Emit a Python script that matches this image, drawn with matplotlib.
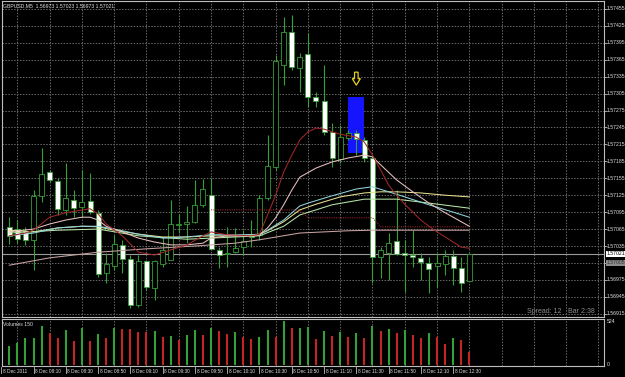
import matplotlib
matplotlib.use('Agg')
import matplotlib.pyplot as plt
import matplotlib.transforms as mtransforms
from matplotlib.patches import Rectangle, Polygon
import numpy as np

plt.rcParams['font.family'] = ['Liberation Sans', 'DejaVu Sans']

# --- data (GBPUSD M5, 8 Dec 2011) ---
title = 'GBPUSD,M5  1.56973 1.57023 1.56973 1.57021'

opens = [1.57069, 1.57065, 1.57062, 1.57046, 1.57124, 1.57166, 1.57150, 1.57099, 1.57117, 1.57104,
         1.57115, 1.57094, 1.56987, 1.56999, 1.57037, 1.57012, 1.56930, 1.57008, 1.56961, 1.57003,
         1.57010, 1.57072, 1.57074, 1.57078, 1.57108, 1.57125, 1.57028, 1.57021, 1.57024, 1.57033,
         1.57055, 1.57055, 1.57120, 1.57175, 1.57356, 1.57414, 1.57350, 1.57375, 1.57299, 1.57292,
         1.57237, 1.57189, 1.57226, 1.57235, 1.57223, 1.57191, 1.57016, 1.57023, 1.57044, 1.57023,
         1.57019, 1.57014, 1.57005, 1.56999, 1.57003, 1.57017, 1.56996, 1.56973]
highs = [1.57086, 1.57081, 1.57069, 1.57134, 1.57209, 1.57170, 1.57156, 1.57182, 1.57134, 1.57170,
         1.57165, 1.57099, 1.57023, 1.57055, 1.57046, 1.57019, 1.57019, 1.57010, 1.57010, 1.57051,
         1.57117, 1.57092, 1.57106, 1.57152, 1.57154, 1.57156, 1.57033, 1.57069, 1.57067, 1.57063,
         1.57081, 1.57125, 1.57232, 1.57373, 1.57441, 1.57444, 1.57377, 1.57412, 1.57308, 1.57356,
         1.57253, 1.57249, 1.57241, 1.57241, 1.57228, 1.57196, 1.57033, 1.57058, 1.57134, 1.57046,
         1.57063, 1.57023, 1.57016, 1.57023, 1.57028, 1.57028, 1.57016, 1.57023]
lows = [1.57039, 1.57040, 1.57037, 1.56992, 1.57113, 1.57149, 1.57090, 1.57090, 1.57086, 1.57086,
        1.57092, 1.56980, 1.56969, 1.56992, 1.56987, 1.56925, 1.56927, 1.56957, 1.56939, 1.56998,
        1.57010, 1.57058, 1.57040, 1.57076, 1.57104, 1.57028, 1.56996, 1.56998, 1.57023, 1.57019,
        1.57033, 1.57046, 1.57117, 1.57170, 1.57320, 1.57347, 1.57308, 1.57281, 1.57281, 1.57232,
        1.57175, 1.57182, 1.57223, 1.57196, 1.57184, 1.56969, 1.56978, 1.56975, 1.57019, 1.56953,
        1.56998, 1.56975, 1.56952, 1.56962, 1.56983, 1.56966, 1.56953, 1.56973]
closes = [1.57053, 1.57047, 1.57046, 1.57124, 1.57163, 1.57152, 1.57101, 1.57120, 1.57102, 1.57113,
          1.57095, 1.56985, 1.57003, 1.57039, 1.57012, 1.56930, 1.57008, 1.56962, 1.57008, 1.57028,
          1.57074, 1.57074, 1.57078, 1.57108, 1.57136, 1.57030, 1.57019, 1.57023, 1.57031, 1.57044,
          1.57051, 1.57120, 1.57177, 1.57363, 1.57414, 1.57352, 1.57370, 1.57299, 1.57292, 1.57237,
          1.57191, 1.57228, 1.57235, 1.57225, 1.57191, 1.57016, 1.57028, 1.57040, 1.57021, 1.57019,
          1.57016, 1.57007, 1.56994, 1.57005, 1.57017, 1.56996, 1.56969, 1.57021]

volumes = [221, 264, 318, 325, 466, 376, 318, 419, 291, 446,
           291, 369, 318, 438, 434, 430, 399, 388, 407, 338,
           345, 299, 361, 415, 361, 438, 407, 369, 388, 338,
           310, 338, 415, 338, 524, 438, 440, 450, 310, 400,
           340, 390, 330, 380, 320, 470, 400, 430, 380, 420,
           360, 320, 380, 330, 256, 320, 295, 150]
vol_up = [1, 1, 1, 1, 1, 0, 0, 1, 0, 1,
          0, 1, 0, 1, 0, 0, 0, 0, 1, 0,
          1, 0, 1, 1, 0, 1, 0, 0, 1, 0,
          0, 1, 1, 0, 1, 0, 1, 1, 0, 1,
          0, 1, 0, 1, 0, 1, 0, 1, 0, 1,
          0, 0, 1, 0, 0, 1, 0, 0]

# moving averages (bar index, value)
ma_red_bars = [0, 2, 3, 5, 7, 10, 11, 12, 14, 16, 18, 20, 22, 24, 25, 27, 30, 31, 32, 33, 34, 35, 36,
               37, 38, 39, 41, 43, 44, 45, 46, 47, 48, 49, 50, 51, 52, 53, 54, 55, 56, 57]
ma_red = [1.57053, 1.57058, 1.57063, 1.57086, 1.57094, 1.57101, 1.57092, 1.57074, 1.57053, 1.57024,
          1.57019, 1.57028, 1.57037, 1.57053, 1.57060, 1.57055, 1.57053, 1.57056, 1.57090, 1.57125,
          1.57166, 1.57196, 1.57223, 1.57237, 1.57244, 1.57242, 1.57233, 1.57228, 1.57219, 1.57196,
          1.57170, 1.57143, 1.57125, 1.57109, 1.57095, 1.57081, 1.57070, 1.57060, 1.57051, 1.57042,
          1.57033, 1.57031]
ma_pink_bars = [0, 3, 5, 7, 9, 10, 11, 12, 14, 16, 18, 20, 22, 24, 25, 27, 30, 31, 32, 33, 34, 35,
                36, 38, 40, 42, 44, 45, 46, 48, 50, 52, 54, 56, 57]
ma_pink = [1.57060, 1.57065, 1.57074, 1.57081, 1.57086, 1.57086, 1.57081, 1.57070, 1.57060, 1.57049,
           1.57042, 1.57037, 1.57037, 1.57040, 1.57049, 1.57053, 1.57053, 1.57055, 1.57067, 1.57085,
           1.57108, 1.57134, 1.57157, 1.57173, 1.57184, 1.57191, 1.57196, 1.57193, 1.57179, 1.57152,
           1.57131, 1.57111, 1.57094, 1.57078, 1.57070]
ma_cyan_bars = [0, 3, 6, 9, 11, 13, 16, 19, 22, 25, 28, 31, 32, 34, 36, 37, 40, 43, 45, 47, 49, 52, 55, 57]
ma_cyan = [1.57053, 1.57058, 1.57067, 1.57070, 1.57070, 1.57065, 1.57056, 1.57049, 1.57051, 1.57055,
           1.57055, 1.57055, 1.57063, 1.57081, 1.57106, 1.57111, 1.57124, 1.57136, 1.57140, 1.57131,
           1.57122, 1.57108, 1.57095, 1.57086]
ma_green_bars = [0, 6, 11, 16, 22, 28, 31, 34, 36, 40, 44, 48, 52, 57]
ma_green = [1.57058, 1.57063, 1.57065, 1.57053, 1.57047, 1.57051, 1.57053, 1.57070, 1.57090, 1.57108,
            1.57118, 1.57118, 1.57111, 1.57102]
ma_khaki_bars = [0, 3, 6, 9, 11, 13, 16, 19, 22, 25, 28, 31, 32, 34, 36, 38, 41, 44, 46, 48, 51, 54, 57]
ma_khaki = [1.57063, 1.57060, 1.57067, 1.57070, 1.57069, 1.57063, 1.57056, 1.57051, 1.57051, 1.57053,
            1.57053, 1.57056, 1.57062, 1.57078, 1.57099, 1.57109, 1.57122, 1.57129, 1.57131, 1.57131,
            1.57129, 1.57125, 1.57122]
ma_slow_bars = [0, 5, 11, 17, 23, 28, 31, 36, 42, 45, 50, 57]
ma_slow = [1.57001, 1.57014, 1.57024, 1.57030, 1.57035, 1.57040, 1.57046, 1.57058, 1.57062, 1.57063,
           1.57063, 1.57063]
step_bars = [25, 36, 37, 45, 46, 57]
step_vals = [1.57099, 1.57099, 1.57085, 1.57085, 1.57069, 1.57069]

bid = 1.57021
grey_level = 1.57005
price_ticks = [1.57455, 1.57425, 1.57395, 1.57365, 1.57335, 1.57305, 1.57275, 1.57245, 1.57215,
               1.57185, 1.57155, 1.57125, 1.57095, 1.57065, 1.57035, 1.57005, 1.56975, 1.56945,
               1.56915]
time_label_bars = [-1, 3, 7, 11, 15, 19, 23, 27, 31, 35, 39, 43, 47, 51, 55]
time_labels = ['8 Dec 2011', '8 Dec 08:10', '8 Dec 08:30', '8 Dec 08:50', '8 Dec 09:10',
               '8 Dec 09:30', '8 Dec 09:50', '8 Dec 10:10', '8 Dec 10:30', '8 Dec 10:50',
               '8 Dec 11:10', '8 Dec 11:30', '8 Dec 11:50', '8 Dec 12:10', '8 Dec 12:30']
vol_max_label = 524
highlight_bars = (42, 43)
highlight_top, highlight_bottom = 1.57299, 1.57200
arrow_bar, arrow_top, arrow_bottom = 43, 1.57343, 1.57320

# --- styling ---
GREEN = '#35a035'
RED = '#c42424'
GRID = '#6a6a6a'
FRAME = '#bdbdbd'
TXT = '#e0e0e0'
FS = 3.7
LW = 0.75

fig = plt.figure(figsize=(6.25, 3.77), dpi=100, facecolor='black')
ax = fig.add_axes([2 / 625, 60 / 377, 602 / 625, 316 / 377], facecolor='black')
axv = fig.add_axes([2 / 625, 11 / 377, 602 / 625, 47 / 377], facecolor='black')

xlim = (-0.905, 73.69)
for a in (ax, axv):
    a.set_xlim(*xlim)
    for s in a.spines.values():
        s.set_color(FRAME)
        s.set_linewidth(0.8)
    for gx in range(1, 74, 4):
        a.axvline(gx, color=GRID, lw=0.7, ls=(0, (1.5, 1.5)), zorder=0)
    a.tick_params(axis='x', labelbottom=False, length=0)

ax.set_ylim(1.569092, 1.574691)
ax.yaxis.tick_right()
ax.set_yticks(price_ticks)
ax.set_yticklabels([])
ax.tick_params(axis='y', length=2, color=FRAME, width=0.6)
for p in price_ticks:
    ax.axhline(p, color=GRID, lw=0.7, ls=(0, (1.5, 1.5)), zorder=0)

ytr = mtransforms.blended_transform_factory(ax.transAxes, ax.transData)
for p in price_ticks:
    if p == grey_level:
        continue
    ax.text(1.005, p, f'{p:.5f}', transform=ytr, color=TXT, fontsize=FS,
            va='center', ha='left', clip_on=False)
ax.text(1.004, grey_level, f'{grey_level:.5f}', transform=ytr, color='#303030', fontsize=FS,
        va='center', ha='left', clip_on=False,
        bbox=dict(boxstyle='square,pad=0.15', fc='#8c8c8c', ec='none'))
ax.text(1.004, bid, f'{bid:.5f}', transform=ytr, color='black', fontsize=FS,
        va='center', ha='left', clip_on=False,
        bbox=dict(boxstyle='square,pad=0.15', fc='white', ec='none'))

# highlight box and arrow
ax.add_patch(Rectangle((highlight_bars[0] - 0.07, highlight_bottom),
                       highlight_bars[1] - highlight_bars[0] + 1.02,
                       highlight_top - highlight_bottom,
                       facecolor='#1414ff', edgecolor='none', zorder=1))
mid = arrow_top - (arrow_top - arrow_bottom) * 0.5
arrow = Polygon([(arrow_bar - 0.22, arrow_top), (arrow_bar + 0.22, arrow_top),
                 (arrow_bar + 0.22, mid), (arrow_bar + 0.5, mid),
                 (arrow_bar, arrow_bottom), (arrow_bar - 0.5, mid),
                 (arrow_bar - 0.22, mid)], closed=True,
                facecolor='black', edgecolor='#e8d21e', lw=0.9, zorder=6)
ax.add_patch(arrow)

ax.axhline(bid, color='#9a9a9a', lw=0.8, zorder=1.5)

# candles
x = np.arange(len(opens))
o = np.array(opens)
c = np.array(closes)
bull = c >= o
ax.vlines(x, lows, highs, color=GREEN, lw=0.8, zorder=3)
body_h = np.maximum(np.abs(c - o), 0.000012)
ax.bar(x, body_h, bottom=np.minimum(o, c), width=0.62,
       color=np.where(bull, 'black', 'white'), edgecolor=GREEN, lw=0.6, zorder=4)

# indicator lines
ax.plot(ma_slow_bars, ma_slow, color='#c9a3a3', lw=LW, zorder=5)
ax.plot(ma_khaki_bars, ma_khaki, color='#e6df8f', lw=LW, zorder=5)
ax.plot(ma_green_bars, ma_green, color='#b8e6a8', lw=LW, zorder=5)
ax.plot(ma_cyan_bars, ma_cyan, color='#8fd3dc', lw=LW, zorder=5)
ax.plot(ma_pink_bars, ma_pink, color='#e9c0c0', lw=LW, zorder=5)
ax.plot(ma_red_bars, ma_red, color='#a02828', lw=LW, zorder=5)
ax.plot(step_bars, step_vals, color='#a02828', lw=LW, ls=(0, (1, 1.2)), zorder=5)

ax.text(0.002, 0.985, title, transform=ax.transAxes, color=TXT, fontsize=FS,
        va='center', ha='left')
ax.text(0.872, 0.016, 'Spread: 12', transform=ax.transAxes, color='#8c8c8c', fontsize=5,
        va='center', ha='left')
ax.text(0.94, 0.016, 'Bar 2:38', transform=ax.transAxes, color='#8c8c8c', fontsize=5,
        va='center', ha='left')

# volumes
axv.set_ylim(-12, 548)
axv.set_yticks([])
axv.vlines(x, 0, volumes, colors=[GREEN if u else RED for u in vol_up], lw=1.5, zorder=3)
axv.text(0.002, 0.89, f'Volumes {volumes[-1]}', transform=axv.transAxes, color=TXT,
         fontsize=FS, va='center', ha='left')
vtr = mtransforms.blended_transform_factory(axv.transAxes, axv.transData)
axv.text(1.005, vol_max_label, str(vol_max_label), transform=vtr, color=TXT, fontsize=FS,
         va='center', ha='left', clip_on=False)
axv.text(1.005, 0, '0', transform=vtr, color=TXT, fontsize=FS, va='center', ha='left',
         clip_on=False)

xtr = mtransforms.blended_transform_factory(axv.transData, axv.transAxes)
for b, lab in zip(time_label_bars, time_labels):
    axv.plot([b, b], [-0.02, -0.14], transform=xtr, color=FRAME, lw=0.6, clip_on=False)
    axv.text(b + 0.2, -0.11, lab, transform=xtr, color=TXT, fontsize=FS - 0.3,
             va='center', ha='left', clip_on=False)

fig.savefig('out.png', dpi=100, facecolor='black')
